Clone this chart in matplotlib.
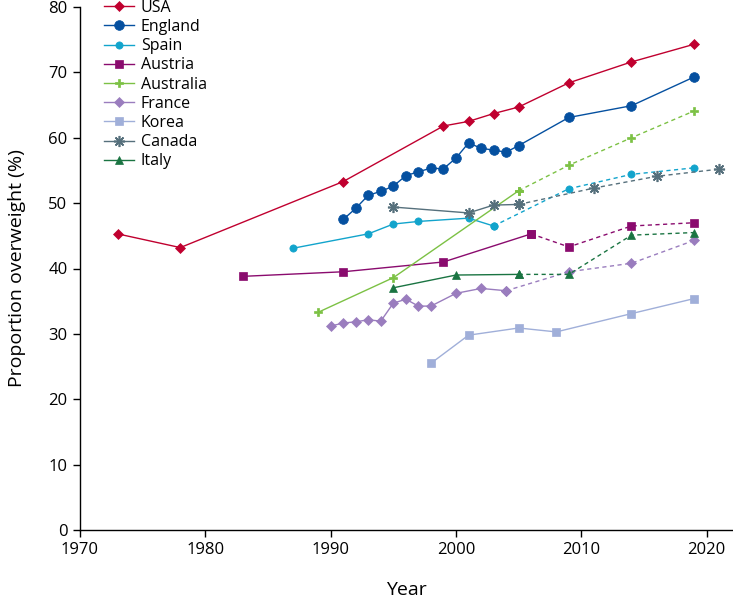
import matplotlib
matplotlib.use("Agg")
import matplotlib.pyplot as plt
from matplotlib.lines import Line2D

plt.rcParams['font.family'] = ['Open Sans', 'DejaVu Sans']

usa_years = [1973, 1978, 1991, 1999, 2001, 2003, 2005, 2009, 2014, 2019]
usa_vals = [45.3, 43.2, 53.3, 61.8, 62.5, 63.7, 64.7, 68.4, 71.6, 74.3]

england_years = [1991, 1992, 1993, 1994, 1995, 1996, 1997, 1998, 1999, 2000,
                 2001, 2002, 2003, 2004, 2005, 2009, 2014, 2019]
england_vals = [47.5, 49.2, 51.2, 51.8, 52.6, 54.2, 54.8, 55.35, 55.25, 56.9,
                59.2, 58.4, 58.1, 57.8, 58.8, 63.1, 64.9, 69.3]

spain_years = [1987, 1993, 1995, 1997, 2001, 2003, 2009, 2014, 2019]
spain_vals = [43.1, 45.3, 46.8, 47.2, 47.7, 46.5, 52.2, 54.4, 55.4]

austria_years = [1983, 1991, 1999, 2006, 2009, 2014, 2019]
austria_vals = [38.8, 39.5, 41.0, 45.3, 43.3, 46.5, 47.0]

australia_years = [1989, 1995, 2005, 2009, 2014, 2019]
australia_vals = [33.3, 38.6, 51.9, 55.8, 60.0, 64.1]

france_years = [1990, 1991, 1992, 1993, 1994, 1995, 1996, 1997, 1998, 2000,
                2002, 2004, 2009, 2014, 2019]
france_vals = [31.2, 31.65, 31.85, 32.15, 31.95, 34.7, 35.3, 34.25, 34.25, 36.2,
               36.95, 36.6, 39.5, 40.8, 44.3]

korea_years = [1998, 2001, 2005, 2008, 2014, 2019]
korea_vals = [25.5, 29.8, 30.9, 30.3, 33.1, 35.4]

canada_years = [1995, 2001, 2003, 2005, 2011, 2016, 2021]
canada_vals = [49.4, 48.5, 49.7, 49.8, 52.3, 54.1, 55.2]

italy_years = [1995, 2000, 2005, 2009, 2014, 2019]
italy_vals = [37.05, 39.0, 39.1, 39.1, 45.1, 45.5]

# name, years, values, last solid year, colour, marker, size
series = [
    ("USA", usa_years, usa_vals, None, "#C0002F", "D", 5.0),
    ("England", england_years, england_vals, None, "#0550A0", "o", 7.0),
    ("Spain", spain_years, spain_vals, 2003, "#12A4CC", "o", 5.2),
    ("Austria", austria_years, austria_vals, 2006, "#8A0B6E", "s", 5.5),
    ("Australia", australia_years, australia_vals, 2005, "#7CC144", "P", 5.5),
    ("France", france_years, france_vals, 2004, "#9A7DBE", "D", 5.0),
    ("Korea", korea_years, korea_vals, None, "#A0AFD9", "s", 5.5),
    ("Canada", canada_years, canada_vals, 2005, "#56707C", (8, 2, 0), 8.0),
    ("Italy", italy_years, italy_vals, 2005, "#1A7442", "^", 5.5),
]

fig = plt.figure(figsize=(7.33, 6.0), dpi=100)
ax = fig.add_axes([80 / 733, 70 / 600, 1 - 80 / 733, (530 - 7) / 600])

handles = []
for name, yrs, vals, split, col, mk, ms in series:
    kw = dict(color=col, lw=1.0, marker=mk, markersize=ms,
              markerfacecolor=col, markeredgecolor=col,
              markeredgewidth=1.2 if isinstance(mk, tuple) else 0.5)
    if split is None:
        ax.plot(yrs, vals, **kw)
    else:
        i = yrs.index(split)
        ax.plot(yrs[:i + 1], vals[:i + 1], **kw)
        ax.plot(yrs[i:], vals[i:], ls=(0, (3, 2.5)), **kw)
    handles.append(Line2D([], [], label=name, **kw))

ax.set_xlim(1970, 2022.1)
ax.set_ylim(0, 80)
ax.set_xticks(range(1970, 2021, 10))
ax.set_yticks(range(0, 81, 10))
ax.spines['top'].set_visible(False)
ax.spines['right'].set_visible(False)
for s in ('left', 'bottom'):
    ax.spines[s].set_linewidth(1.0)
ax.tick_params(direction='out', length=5, width=1.0, labelsize=12, pad=4)
ax.set_xlabel("Year", fontsize=14, labelpad=16)
ax.set_ylabel("Proportion overweight (%)", fontsize=14, labelpad=16)

ax.legend(handles=handles, loc='upper left', bbox_to_anchor=(0.027, 1.026),
          frameon=False, fontsize=11.5, handlelength=1.85, labelspacing=0.2,
          handletextpad=0.45, borderaxespad=0)

fig.savefig("out.png", dpi=100)
